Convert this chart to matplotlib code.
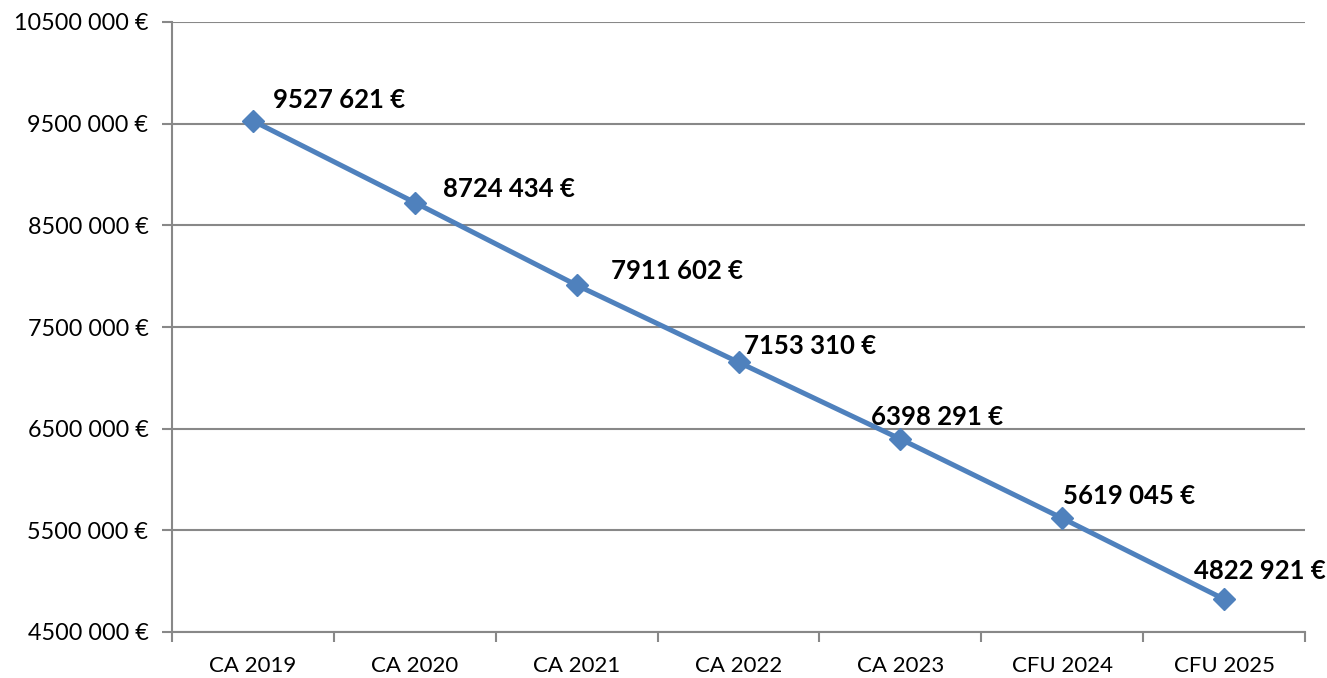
import numpy as np
import matplotlib.pyplot as plt
from matplotlib.ticker import FixedLocator, FuncFormatter

categories = ['CA 2019', 'CA 2020', 'CA 2021', 'CA 2022', 'CA 2023', 'CFU 2024', 'CFU 2025']
values = [9527621, 8724434, 7911602, 7153310, 6398291, 5619045, 4822921]
y_ticks = [4500000, 5500000, 6500000, 7500000, 8500000, 9500000, 10500000]

# label offsets in pixels (dx, dy) from each point to the label's left/centre
label_offsets = [(20, 21), (28, 14), (34, 14), (6, 16), (-29, 22), (1, 22), (-30, 28)]

plt.rcParams['font.family'] = ['Lato', 'DejaVu Sans']


def euro(v, pos=None):
    v = int(round(v))
    return f"{v // 1000000}{(v // 1000) % 1000:03d} {v % 1000:03d} €"


fig = plt.figure(figsize=(13.27, 6.78), dpi=100)
ax = fig.add_axes([172 / 1327, 1 - 632 / 678, (1305 - 172) / 1327, (632 - 22) / 678])

x = np.arange(len(categories))
ax.plot(x, values, color='#4F81BD', linewidth=3.6, marker='D', markersize=11,
        zorder=3, solid_capstyle='round')

for xi, v, (dx, dy) in zip(x, values, label_offsets):
    ax.annotate(euro(v), (xi, v), xytext=(dx * 0.72, dy * 0.72),
                textcoords='offset points', ha='left', va='center',
                fontsize=18.5, fontweight='bold', color='black')

ax.set_xlim(-0.5, len(categories) - 0.5)
ax.set_ylim(y_ticks[0], y_ticks[-1])

ax.yaxis.set_major_locator(FixedLocator(y_ticks))
ax.yaxis.set_major_formatter(FuncFormatter(euro))
ax.grid(axis='y', color='#888888', linewidth=1.5, zorder=1)

ax.xaxis.set_major_locator(FixedLocator(np.arange(-0.5, len(categories), 1.0)))
ax.xaxis.set_major_formatter(FuncFormatter(lambda v, p: ''))
ax.set_xticks(x, categories, minor=True)
ax.tick_params(axis='x', which='minor', length=0, pad=17, labelsize=16)
ax.tick_params(axis='x', which='major', direction='out', length=7, width=1.5, color='#888888')
ax.tick_params(axis='y', direction='out', length=7, width=1.5, color='#888888', pad=10,
               labelsize=16.8)

for side in ['top', 'right']:
    ax.spines[side].set_visible(False)
for side in ['left', 'bottom']:
    ax.spines[side].set_color('#888888')
    ax.spines[side].set_linewidth(1.5)

fig.savefig('out.png', dpi=100)
